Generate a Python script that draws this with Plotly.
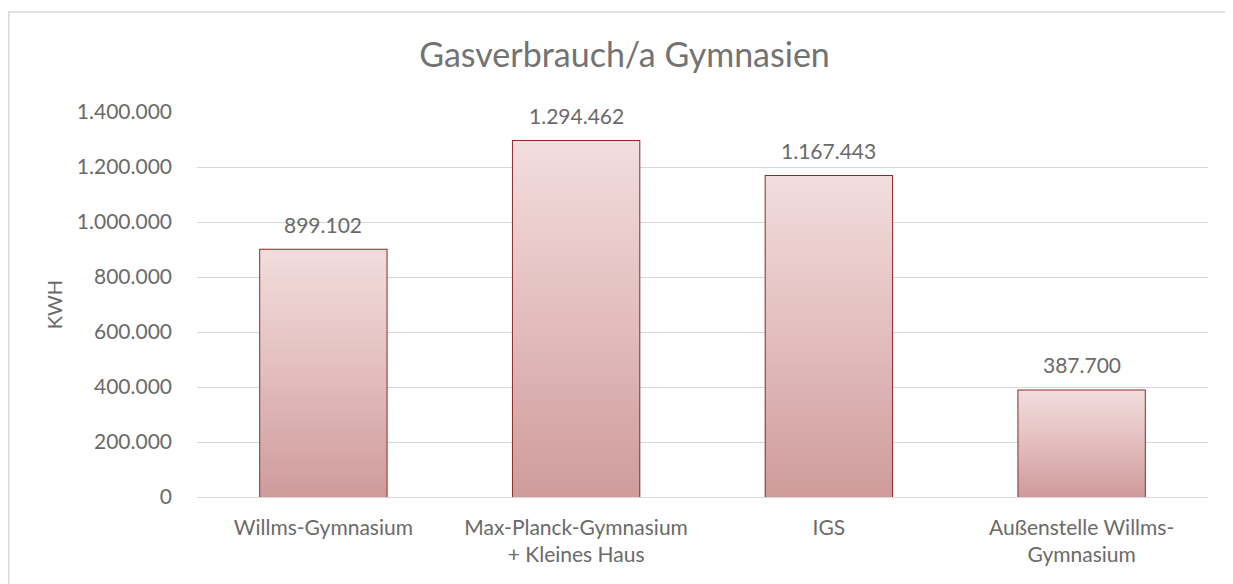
import plotly.graph_objects as go

categories = ["Willms-Gymnasium", "Max-Planck-Gymnasium<br>+ Kleines Haus", "IGS", "Außenstelle Willms-<br>Gymnasium"]
values = [899102, 1294462, 1167443, 387700]
tick_vals = [0, 200000, 400000, 600000, 800000, 1000000, 1200000, 1400000]

BAR_W = 0.5
FONT = "Lato, 'Open Sans', sans-serif"
GRAY = "#6a6a6a"

# page is rendered with an 8px body margin
ML, MT, MR, MB = 189, 104, 33, 95
PW, PH = 1233 - ML - MR, 584 - MT - MB

fig = go.Figure()
xs = list(range(len(categories)))

# gradient fills (one per bar, light at top, darker at bottom)
for i, v in zip(xs, values):
    fig.add_trace(go.Scatter(
        x=[i - BAR_W / 2, i - BAR_W / 2, i + BAR_W / 2, i + BAR_W / 2, i - BAR_W / 2],
        y=[0, v, v, 0, 0],
        mode="lines", line=dict(width=0), fill="toself",
        fillgradient=dict(type="vertical", start=0, stop=v,
                          colorscale=[[0, "rgb(207,155,155)"], [0.5, "rgb(227,189,189)"], [1, "rgb(242,221,221)"]]),
        hoverinfo="skip", showlegend=False))

fig.add_trace(go.Bar(
    x=xs, y=values, width=BAR_W,
    marker=dict(color="rgba(0,0,0,0)", line=dict(color="rgb(140,40,40)", width=2)),
    showlegend=False))

for i, v in zip(xs, values):
    fig.add_annotation(x=i, y=v, yanchor="bottom", yshift=11, showarrow=False,
                       text=f"{v:,}".replace(",", "."),
                       font=dict(family=FONT, size=21, color=GRAY))

fig.add_shape(type="rect", xref="paper", yref="paper",
              x0=(0.75 - ML) / PW, x1=(1260 - ML) / PW,
              y0=(MT + PH - 620) / PH, y1=(MT + PH - 4) / PH,
              line=dict(color="rgb(217,217,217)", width=1.5), layer="below")

fig.update_layout(
    width=1233, height=584,
    margin=dict(l=ML, r=MR, t=MT, b=MB),
    paper_bgcolor="white", plot_bgcolor="white",
    separators=",.",
    title=dict(text="Gasverbrauch/a Gymnasien", x=0.5, xanchor="center",
               y=1 - 47 / 584, yanchor="middle",
               font=dict(family=FONT, size=34, color="#737373")),
    xaxis=dict(tickvals=xs, ticktext=categories, range=[-0.5, 3.5], showgrid=False,
               showline=False, ticks="", zeroline=False, ticklabelstandoff=16,
               tickfont=dict(family=FONT, size=21, color=GRAY)),
    yaxis=dict(range=[0, 1400000], tickvals=tick_vals, tickformat=",d",
               showgrid=True, gridcolor="rgb(217,217,217)", gridwidth=1,
               zeroline=True, zerolinecolor="rgb(217,217,217)", zerolinewidth=1,
               ticks="", ticklabelstandoff=24,
               tickfont=dict(family=FONT, size=21, color=GRAY),
               title=dict(text="KWH", standoff=8, font=dict(family=FONT, size=20, color=GRAY))),
)

fig.write_html("out.html")
